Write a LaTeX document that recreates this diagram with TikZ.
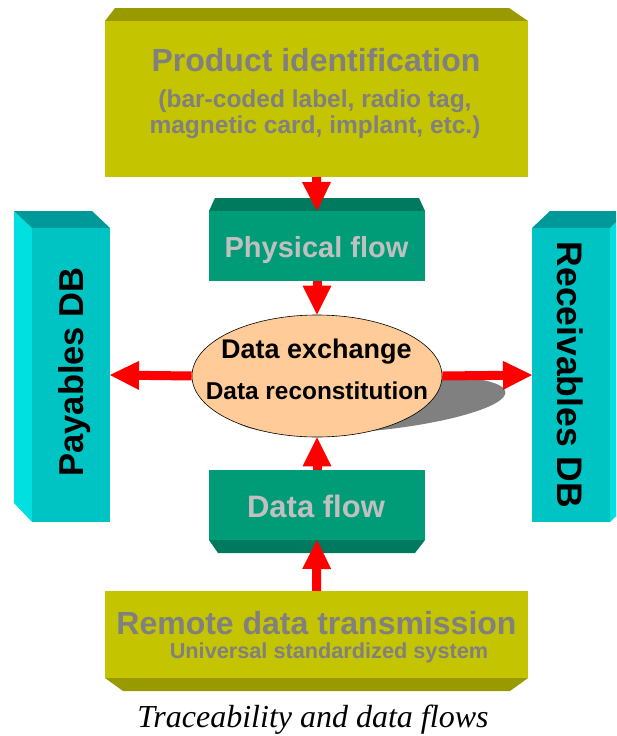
\documentclass[tikz,border=0pt]{standalone}
\usepackage{fontspec}
\setmainfont{Liberation Sans}
\newfontfamily\capfont{Liberation Serif}
\usetikzlibrary{arrows.meta,shapes.geometric}

\definecolor{oliveface}{RGB}{196,196,0}
\definecolor{olivebevel}{RGB}{153,153,0}
\definecolor{greenface}{RGB}{0,155,119}
\definecolor{greenbevel}{RGB}{0,122,94}
\definecolor{cyanface}{RGB}{0,196,196}
\definecolor{cyanside}{RGB}{0,224,224}
\definecolor{cyantop}{RGB}{0,153,153}
\definecolor{peach}{RGB}{255,204,153}
\definecolor{shadowgray}{RGB}{128,128,128}
\definecolor{dimtext}{RGB}{128,128,128}
\definecolor{lighttext}{RGB}{192,192,192}
\definecolor{arrowred}{RGB}{255,0,0}

\newcommand{\fsz}[1]{\fontsize{#1}{#1}\selectfont}

\begin{document}
\begin{tikzpicture}[x=1pt,y=-1pt,
  facebox/.style={rectangle, draw=none, inner sep=0pt, outer sep=0pt},
  olivebox/.style={facebox, fill=oliveface},
  greenbox/.style={facebox, fill=greenface},
  cyanbox/.style={facebox, fill=cyanface},
  txt/.style={inner sep=0pt, outer sep=0pt, anchor=base, font=\bfseries},
  flow/.style={draw=arrowred, line width=9pt,
    -{Triangle[width=29pt,length=29pt,line width=0pt]}},
]
\useasboundingbox (0,0) rectangle (616,736);

% ---- Product identification block (bevel on top) ----
\fill[olivebevel] (105,21) -- (115,8) -- (509,8) -- (528,21) -- cycle;
\node[olivebox, minimum width=423pt, minimum height=156pt] (prod) at (316.5,99) {};
\node[txt, text=dimtext, font=\bfseries\fsz{32}] (prodA) at (316,71) {Product identification};
\node[txt, text=dimtext, font=\bfseries\fsz{24.5}] (prodB) at (315,107) {(bar-coded label, radio tag,};
\node[txt, text=dimtext, font=\bfseries\fsz{24.5}] (prodC) at (315,133) {magnetic card, implant, etc.)};

% ---- Physical flow block (bevel on top) ----
\fill[greenbevel] (209,211) -- (215,198) -- (419,198) -- (425,211) -- cycle;
\node[greenbox, minimum width=216pt, minimum height=70pt] (phys) at (317,246) {};
\node[txt, text=lighttext, font=\bfseries\fsz{29}] (physT) at (316.5,257) {Physical flow};

% ---- Data flow block (bevel at bottom) ----
\fill[greenbevel] (209,540) -- (218,553) -- (415,553) -- (425,540) -- cycle;
\node[greenbox, minimum width=216pt, minimum height=70pt] (dflow) at (317,505) {};
\node[txt, text=lighttext, font=\bfseries\fsz{31}] (dflowT) at (316,517) {Data flow};

% ---- Remote data transmission block (bevel at bottom) ----
\fill[olivebevel] (105,678) -- (123,691) -- (510,691) -- (528,678) -- cycle;
\node[olivebox, minimum width=423pt, minimum height=87pt] (remote) at (316.5,634.5) {};
\node[txt, text=dimtext, font=\bfseries\fsz{32}] (remoteA) at (316.5,634) {Remote data transmission};
\node[txt, text=dimtext, font=\bfseries\fsz{21.7}] (remoteB) at (329,658) {Universal standardized system};

% ---- Payables DB column (side face on the left) ----
\fill[cyanside] (32,228) -- (14,211) -- (14,503) -- (32,522) -- cycle;
\fill[cyantop] (14,211) -- (92,211) -- (110,228) -- (32,228) -- cycle;
\node[cyanbox, minimum width=78pt, minimum height=294pt] (pay) at (71,375) {};
\node[txt, rotate=90, font=\bfseries\fsz{34.5}] (payT) at (83,372) {Payables DB};

% ---- Receivables DB column (side face on the right, cut by the page edge) ----
\fill[cyanside] (610,228) -- (616,222.3) -- (616,516.3) -- (610,522) -- cycle;
\fill[cyantop] (532,228) -- (550,211) -- (616,211) -- (616,222.3) -- (610,228) -- cycle;
\node[cyanbox, minimum width=78pt, minimum height=294pt] (rec) at (571,375) {};
\node[txt, rotate=-90, font=\bfseries\fsz{35.5}] (recT) at (557,375) {Receivables DB};

% ---- Central data hub with its cast shadow ----
\fill[shadowgray, rotate around={5.5:(370,405)}] (370,405) ellipse [x radius=136, y radius=26];
\node[ellipse, draw=black, line width=0.6pt, fill=peach, inner sep=0pt,
      minimum width=250pt, minimum height=122pt] (hub) at (317,376) {};
\node[txt, font=\bfseries\fsz{27}] (hubA) at (316.5,358) {Data exchange};
\node[txt, font=\bfseries\fsz{24.4}] (hubB) at (317,399) {Data reconstitution};

% ---- Flows ----
\draw[flow] (prod.south) -- (phys.north);
\draw[flow] (phys.south) -- (hub.north);
\draw[flow] (hub.west) -- (pay.east);
\draw[flow] (hub.east) -- (rec.west);
\draw[flow] (dflow.north) -- (hub.south);
\draw[flow] (remote.north) -- (dflow.south);

% ---- Caption ----
\node[inner sep=0pt, anchor=base, font=\capfont\itshape\fsz{32}] (caption) at (313,727)
  {Traceability and data flows};
\end{tikzpicture}
\end{document}
